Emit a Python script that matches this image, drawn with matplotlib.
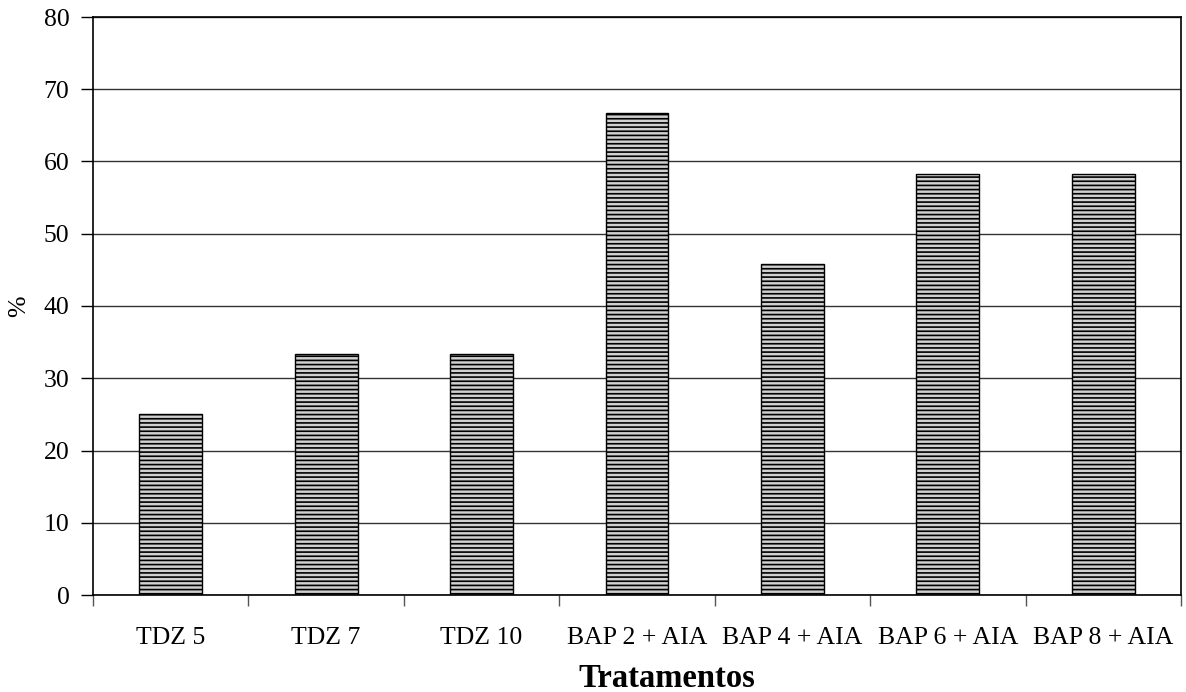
import matplotlib.pyplot as plt
import numpy as np

plt.rcParams['font.family'] = ['Liberation Serif', 'DejaVu Serif']
plt.rcParams['hatch.color'] = '#303030'
plt.rcParams['hatch.linewidth'] = 1.2

tratamentos = ['TDZ 5', 'TDZ 7', 'TDZ 10', 'BAP 2 + AIA', 'BAP 4 + AIA',
               'BAP 6 + AIA', 'BAP 8 + AIA']
valores = [25.0, 33.3, 33.3, 66.7, 45.8, 58.3, 58.3]

W, H = 1186, 692
fig = plt.figure(figsize=(W / 100, H / 100), dpi=100)
ax = fig.add_axes([93 / W, 1 - 595 / H, (1181 - 93) / W, (595 - 17) / H])

x = np.arange(len(tratamentos))
ax.set_axisbelow(True)
ax.yaxis.grid(True, color='#333333', linewidth=1.0)
ax.bar(x, valores, width=0.405, color='#d0d0d0', edgecolor='black',
       linewidth=1.0, hatch='----')

ax.set_xlim(-0.5, len(tratamentos) - 0.5)
ax.set_ylim(0, 80)
ax.set_yticks(np.arange(0, 81, 10))
ax.set_xticks(x)
ax.set_xticklabels(tratamentos)
ax.set_xticks(np.arange(-0.5, len(tratamentos), 1), minor=True)
ax.tick_params(axis='x', which='major', length=0, pad=23, labelsize=18.5)
ax.tick_params(axis='x', which='minor', length=8, color='#555555', width=1)
ax.tick_params(axis='y', length=9, width=1, labelsize=18.5, pad=8)

for s in ax.spines.values():
    s.set_color('black')
    s.set_linewidth(1.2)

fig.text(19 / W, 1 - 306 / H, '%', rotation=90, fontsize=18.5,
         ha='center', va='center')
fig.text(667 / W, 5 / H, 'Tratamentos', fontsize=23.5, fontweight='bold',
         ha='center', va='baseline')

fig.savefig('out.png', dpi=100)
